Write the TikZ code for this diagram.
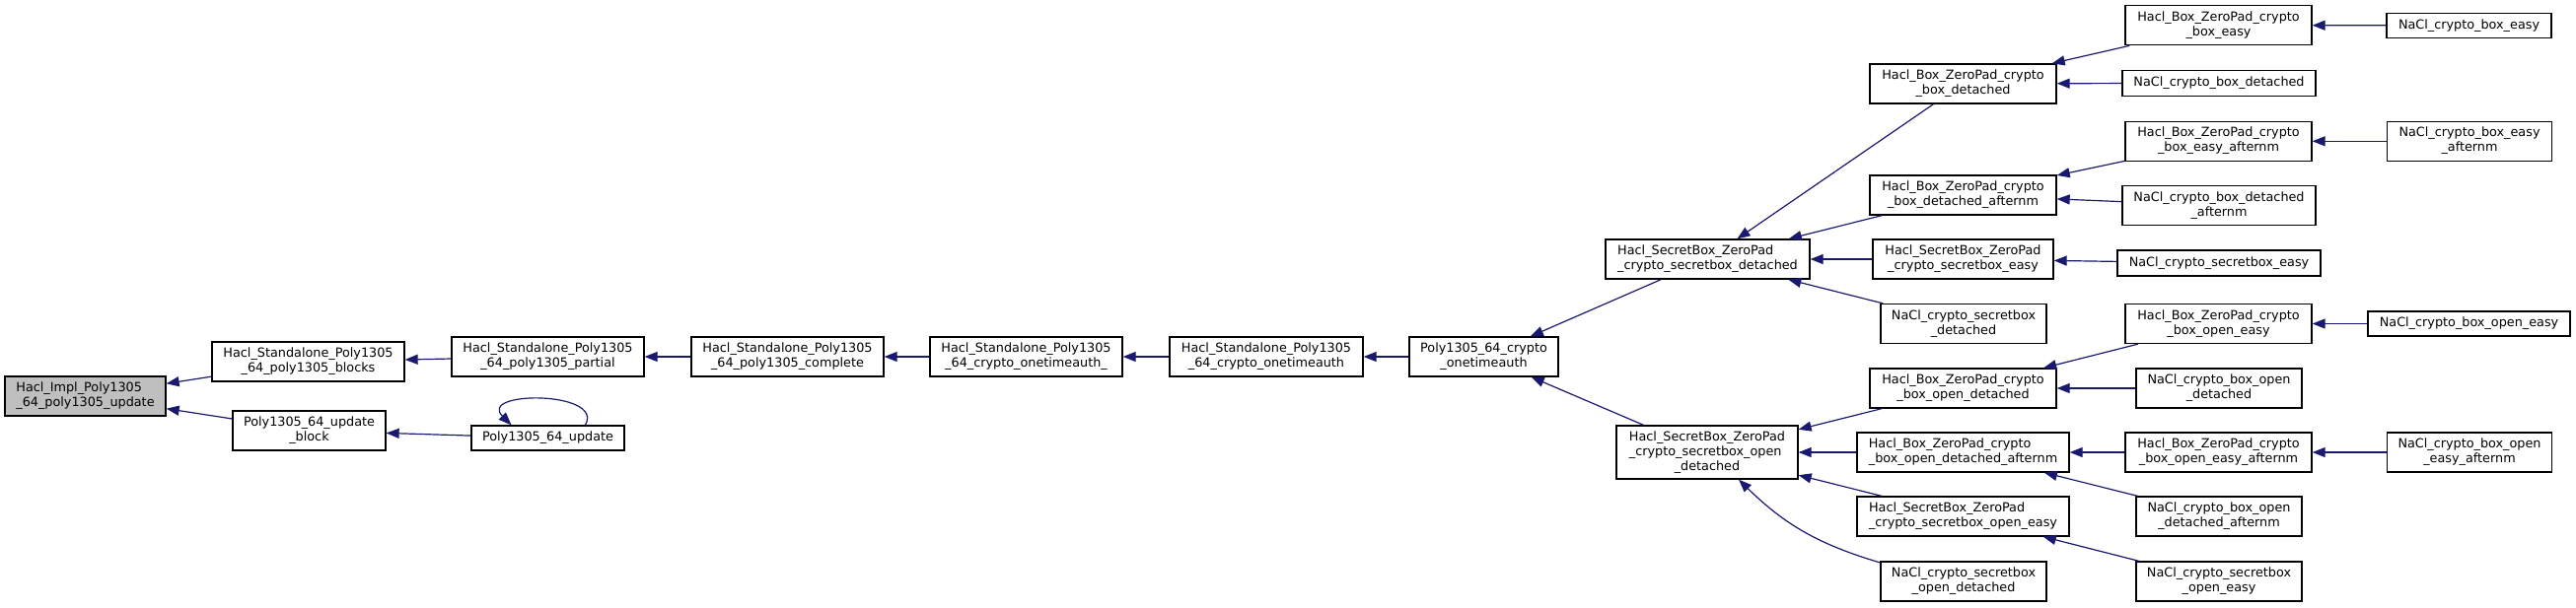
\documentclass[tikz,border=0pt]{standalone}
\usepackage{fontspec}
\setmainfont{DejaVu Sans}
\usepackage{tikz}
\usetikzlibrary{arrows.meta,calc}
\definecolor{edgeblue}{HTML}{191970}
\definecolor{curgray}{HTML}{BFBFBF}
% two and three line labels: upper lines flush left, last line centred
\newcommand{\twol}[2]{\begin{tabular}{@{}l@{}}#1\\\multicolumn{1}{@{}c@{}}{#2}\end{tabular}}
\newcommand{\threel}[3]{\begin{tabular}{@{}l@{}}#1\\#2\\\multicolumn{1}{@{}c@{}}{#3}\end{tabular}}

\begin{document}
\begin{tikzpicture}[
  x=1pt, y=-1pt,
  font=\fontsize{12.8}{15}\selectfont,
  fn/.style={draw, line width=1.3pt, inner sep=0pt, minimum height=40pt, align=center},
  one/.style={fn, minimum height=26pt},
  cur/.style={fn, fill=curgray},
  arr/.style={{Triangle[length=13pt,width=10pt]}-, line width=1.2pt, draw=edgeblue}
]
\useasboundingbox (0,0) rectangle (2612,616);

% left part
\node[cur, minimum width=163pt] (impl) at (86.5,402) {\twol{Hacl\_Impl\_Poly1305}{\_64\_poly1305\_update}};
\node[fn, minimum width=195pt] (blocks) at (312.5,367) {\twol{Hacl\_Standalone\_Poly1305}{\_64\_poly1305\_blocks}};
\node[fn, minimum width=155pt] (upblock) at (313.5,437) {\twol{Poly1305\_64\_update}{\_block}};
\node[fn, minimum width=195pt] (partial) at (555.5,362) {\twol{Hacl\_Standalone\_Poly1305}{\_64\_poly1305\_partial}};
\node[one, minimum width=155pt, minimum height=25pt] (upd) at (555.5,444.5) {Poly1305\_64\_update};
\node[fn, minimum width=195pt] (complete) at (798.5,362) {\twol{Hacl\_Standalone\_Poly1305}{\_64\_poly1305\_complete}};
\node[fn, minimum width=195pt] (otaU) at (1040.5,362) {\twol{Hacl\_Standalone\_Poly1305}{\_64\_crypto\_onetimeauth\_}};
\node[fn, minimum width=196pt] (ota) at (1284,362) {\twol{Hacl\_Standalone\_Poly1305}{\_64\_crypto\_onetimeauth}};
\node[fn, minimum width=151pt] (p64ota) at (1504.5,362) {\twol{Poly1305\_64\_crypto}{\_onetimeauth}};

% secretbox level
\node[fn, minimum width=207pt] (sbdet) at (1731.5,263) {\twol{Hacl\_SecretBox\_ZeroPad}{\_crypto\_secretbox\_detached}};
\node[fn, minimum width=184pt, minimum height=54pt] (sbodet) at (1731,459) {\threel{Hacl\_SecretBox\_ZeroPad}{\_crypto\_secretbox\_open}{\_detached}};

% box level
\node[fn, minimum width=189pt] (bdet) at (1990.5,85) {\twol{Hacl\_Box\_ZeroPad\_crypto}{\_box\_detached}};
\node[fn, minimum width=189pt] (bdetaf) at (1990.5,198) {\twol{Hacl\_Box\_ZeroPad\_crypto}{\_box\_detached\_afternm}};
\node[fn, minimum width=183pt] (sbeasy) at (1990.5,263) {\twol{Hacl\_SecretBox\_ZeroPad}{\_crypto\_secretbox\_easy}};
\node[fn, minimum width=168pt] (ncsbdet) at (1991,328.5) {\twol{NaCl\_crypto\_secretbox}{\_detached}};
\node[fn, minimum width=189pt] (bodet) at (1990.5,394) {\twol{Hacl\_Box\_ZeroPad\_crypto}{\_box\_open\_detached}};
\node[fn, minimum width=215pt] (bodetaf) at (1990.5,459) {\twol{Hacl\_Box\_ZeroPad\_crypto}{\_box\_open\_detached\_afternm}};
\node[fn, minimum width=215pt] (sboeasy) at (1990.5,524) {\twol{Hacl\_SecretBox\_ZeroPad}{\_crypto\_secretbox\_open\_easy}};
\node[fn, minimum width=168pt] (ncsbodet) at (1991,590) {\twol{NaCl\_crypto\_secretbox}{\_open\_detached}};

% next level
\node[fn, minimum width=189pt] (beasy) at (2249.5,25.7) {\twol{Hacl\_Box\_ZeroPad\_crypto}{\_box\_easy}};
\node[one, minimum width=196pt] (ncbdet) at (2250,84.3) {NaCl\_crypto\_box\_detached};
\node[fn, minimum width=189pt] (beasyaf) at (2249.5,143.3) {\twol{Hacl\_Box\_ZeroPad\_crypto}{\_box\_easy\_afternm}};
\node[fn, minimum width=196pt] (ncbdetaf) at (2250,208.7) {\twol{NaCl\_crypto\_box\_detached}{\_afternm}};
\node[one, minimum width=206pt] (ncsbeasy) at (2250,267) {NaCl\_crypto\_secretbox\_easy};
\node[fn, minimum width=189pt] (boeasy) at (2249.5,328.5) {\twol{Hacl\_Box\_ZeroPad\_crypto}{\_box\_open\_easy}};
\node[fn, minimum width=168pt] (ncbodet) at (2250,394) {\twol{NaCl\_crypto\_box\_open}{\_detached}};
\node[fn, minimum width=189pt] (boeasyaf) at (2249.5,459) {\twol{Hacl\_Box\_ZeroPad\_crypto}{\_box\_open\_easy\_afternm}};
\node[fn, minimum width=168pt] (ncbodetaf) at (2250,524) {\twol{NaCl\_crypto\_box\_open}{\_detached\_afternm}};
\node[fn, minimum width=168pt] (ncsboeasy) at (2250,590) {\twol{NaCl\_crypto\_secretbox}{\_open\_easy}};

% rightmost
\node[one, minimum width=167pt, minimum height=25pt] (ncbeasy) at (2503.5,25.8) {NaCl\_crypto\_box\_easy};
\node[fn, minimum width=167pt] (ncbeasyaf) at (2504,143.3) {\twol{NaCl\_crypto\_box\_easy}{\_afternm}};
\node[one, minimum width=205pt, minimum height=25pt] (ncboeasy) at (2503.5,328.5) {NaCl\_crypto\_box\_open\_easy};
\node[fn, minimum width=167pt] (ncboeasyaf) at (2504,459) {\twol{NaCl\_crypto\_box\_open}{\_easy\_afternm}};

% calls
\draw[arr] (impl) -- (blocks);
\draw[arr] (impl) -- (upblock);
\draw[arr] (blocks) -- (partial);
\draw[arr] (upblock) -- (upd);
\draw[arr] ($(upd.north)+(-37,0)$) .. controls +(-35,-35) and +(20,-35) .. ($(upd.north)+(38,0)$);
\draw[arr] (partial) -- (complete);
\draw[arr] (complete) -- (otaU);
\draw[arr] (otaU) -- (ota);
\draw[arr] (ota) -- (p64ota);
\draw[arr] (p64ota) -- (sbdet);
\draw[arr] (p64ota) -- (sbodet);
\draw[arr] (sbdet) -- (bdet);
\draw[arr] (sbdet) -- (bdetaf);
\draw[arr] (sbdet) -- (sbeasy);
\draw[arr] (sbdet) -- (ncsbdet);
\draw[arr] (sbodet) -- (bodet);
\draw[arr] (sbodet) -- (bodetaf);
\draw[arr] (sbodet) -- (sboeasy);
\draw[arr] (sbodet) to[bend right=14] (ncsbodet);
\draw[arr] (bdet) -- (beasy);
\draw[arr] (bdet) -- (ncbdet);
\draw[arr] (bdetaf) -- (beasyaf);
\draw[arr] (bdetaf) -- (ncbdetaf);
\draw[arr] (sbeasy) -- (ncsbeasy);
\draw[arr] (bodet) -- (boeasy);
\draw[arr] (bodet) -- (ncbodet);
\draw[arr] (bodetaf) -- (boeasyaf);
\draw[arr] (bodetaf) -- (ncbodetaf);
\draw[arr] (sboeasy) -- (ncsboeasy);
\draw[arr] (beasy) -- (ncbeasy);
\draw[arr] (beasyaf) -- (ncbeasyaf);
\draw[arr] (boeasy) -- (ncboeasy);
\draw[arr] (boeasyaf) -- (ncboeasyaf);
\end{tikzpicture}
\end{document}
